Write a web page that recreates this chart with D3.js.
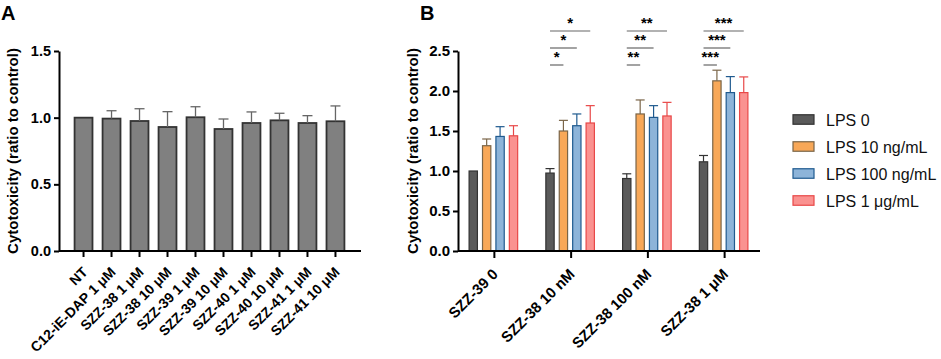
<!DOCTYPE html>
<html>
<head>
<meta charset="utf-8">
<script src="https://cdn.jsdelivr.net/npm/d3@7"></script>
<style>
body { margin: 0; background: #fff; }
svg { font-family: "Liberation Sans", Arial, sans-serif; }
</style>
</head>
<body>
<svg id="chart" width="941" height="359"></svg>
<script>
// Panel A data ==============================================================
var aCats = ["NT", "C12-iE-DAP 1 μM", "SZZ-38 1 μM", "SZZ-38 10 μM", "SZZ-39 1 μM",
	"SZZ-39 10 μM", "SZZ-40 1 μM", "SZZ-40 10 μM", "SZZ-41 1 μM", "SZZ-41 10 μM"];
var aMean = [1.0, 0.993, 0.975, 0.93, 1.003, 0.915, 0.96, 0.98, 0.96, 0.973];
var aTop  = [1.0, 1.052, 1.067, 1.045, 1.082, 0.99, 1.043, 1.033, 1.015, 1.088];
var aTicks = [0, 0.5, 1.0, 1.5];

// Panel B data ==============================================================
var bCats = ["SZZ-39 0", "SZZ-38 10 nM", "SZZ-38 100 nM", "SZZ-38 1 μM"];
var bSeries = ["LPS 0", "LPS 10 ng/mL", "LPS 100 ng/mL", "LPS 1 μg/mL"];
var bMean = [
	[1.0, 0.974, 0.906, 1.115],
	[1.316, 1.5, 1.713, 2.127],
	[1.432, 1.566, 1.67, 1.98],
	[1.44, 1.6, 1.688, 1.98]
];
var bTop = [
	[1.0, 1.03, 0.965, 1.194],
	[1.40, 1.633, 1.888, 2.26],
	[1.554, 1.713, 1.817, 2.18],
	[1.566, 1.817, 1.858, 2.176]
];
var bTicks = [0, 0.5, 1.0, 1.5, 2.0, 2.5];
// significance: [group, series compared with LPS 0, label]
var bSig = [
	[1, 1, "*"], [1, 2, "*"], [1, 3, "*"],
	[2, 1, "**"], [2, 2, "**"], [2, 3, "**"],
	[3, 1, "***"], [3, 2, "***"], [3, 3, "***"]
];

var fills   = ["#5a5a5a", "#f8a858", "#8db4d9", "#fa9290"];
var strokes = ["#333333", "#7a6548", "#1f5a8f", "#e84848"];

var svg = d3.select("#chart");
var yTop = 51, yBottom = 251;

// Panel A ===================================================================
var ax = 59;
var aY = d3.scaleLinear().domain([0, 1.5]).range([yBottom, yTop]);
var aX = d3.scaleBand().domain(aCats).range([64.5, 354.5]).padding(0.36);

var gA = svg.append("g");

gA.selectAll("rect.bar")
	.data(aCats)
	.enter().append("rect")
	.attr("x", function(d) { return aX(d); })
	.attr("y", function(d, i) { return aY(aMean[i]); })
	.attr("width", aX.bandwidth())
	.attr("height", function(d, i) { return aY(0) - aY(aMean[i]); })
	.attr("fill", "#808080")
	.attr("stroke", "#333")
	.attr("stroke-width", 1.8);

var aErr = gA.selectAll("g.err")
	.data(aCats)
	.enter().append("g")
	.attr("stroke", "#666")
	.attr("stroke-width", 1.3);
aErr.filter(function(d, i) { return aTop[i] > aMean[i]; })
	.each(function(d) {
		var i = aCats.indexOf(d);
		var cx = aX(d) + aX.bandwidth() / 2;
		var g = d3.select(this);
		g.append("line").attr("x1", cx).attr("x2", cx)
			.attr("y1", aY(aMean[i])).attr("y2", aY(aTop[i]));
		g.append("line").attr("x1", cx - 5).attr("x2", cx + 5)
			.attr("y1", aY(aTop[i])).attr("y2", aY(aTop[i]));
	});

gA.append("g")
	.attr("class", "y-axis")
	.attr("transform", "translate(" + ax + ",0)")
	.call(d3.axisLeft(aY).tickValues(aTicks).tickFormat(d3.format(".1f")).tickSize(5).tickSizeOuter(0))
	.call(styleAxis)
	.call(function(g) { g.selectAll(".tick text").attr("font-size", 14.5); });

gA.append("g")
	.attr("class", "x-axis")
	.attr("transform", "translate(0," + yBottom + ")")
	.call(d3.axisBottom(aX).tickSize(6).tickSizeOuter(0))
	.call(styleAxis)
	.call(function(g) {
		g.select(".domain").attr("d", "M" + ax + ",0H361");
		g.selectAll(".tick text")
			.attr("text-anchor", "end")
			.attr("dy", 0)
			.attr("transform", "translate(-1.4,15.6) rotate(-45)")
			.attr("font-size", 14);
	});

gA.append("text")
	.attr("transform", "translate(18,151) rotate(-90)")
	.attr("text-anchor", "middle")
	.attr("font-size", 15)
	.attr("font-weight", "bold")
	.text("Cytotoxicity (ratio to control)");

svg.append("text").attr("x", 1).attr("y", 20)
	.attr("font-size", 20).attr("font-weight", "bold").text("A");

// Panel B ===================================================================
var bx = 458;
var bY = d3.scaleLinear().domain([0, 2.5]).range([yBottom, yTop]);
var bX = d3.scaleBand().domain(bCats).range([456, 763]);
var bSub = d3.scaleBand().domain(d3.range(4)).range([8, bX.bandwidth() - 10]).padding(0.38);

var gB = svg.append("g");

bSeries.forEach(function(s, si) {
	gB.selectAll("rect.s" + si)
		.data(bCats)
		.enter().append("rect")
		.attr("x", function(d) { return bX(d) + bSub(si); })
		.attr("y", function(d, gi) { return bY(bMean[si][gi]); })
		.attr("width", bSub.bandwidth())
		.attr("height", function(d, gi) { return bY(0) - bY(bMean[si][gi]); })
		.attr("fill", fills[si])
		.attr("stroke", strokes[si])
		.attr("stroke-width", 1.2);

	bCats.forEach(function(d, gi) {
		if (bTop[si][gi] <= bMean[si][gi]) return;
		var cx = bX(d) + bSub(si) + bSub.bandwidth() / 2;
		var g = gB.append("g").attr("stroke", strokes[si]).attr("stroke-width", 1.2);
		g.append("line").attr("x1", cx).attr("x2", cx)
			.attr("y1", bY(bMean[si][gi])).attr("y2", bY(bTop[si][gi]));
		g.append("line").attr("x1", cx - 4.5).attr("x2", cx + 4.5)
			.attr("y1", bY(bTop[si][gi])).attr("y2", bY(bTop[si][gi]));
	});
});

// significance brackets
var sigY = [null, 65, 48, 31];
bSig.forEach(function(s) {
	var cat = bCats[s[0]];
	var x1 = bX(cat) + bSub(0) + bSub.bandwidth() / 2;
	var x2 = bX(cat) + bSub(s[1]) + bSub.bandwidth() / 2;
	var y = sigY[s[1]];
	gB.append("line").attr("x1", x1).attr("x2", x2).attr("y1", y).attr("y2", y)
		.attr("stroke", "#666").attr("stroke-width", 1.2);
	gB.append("text").attr("x", (x1 + x2) / 2).attr("y", y - 3)
		.attr("text-anchor", "middle").attr("font-size", 15).attr("font-weight", "bold")
		.text(s[2]);
});

gB.append("g")
	.attr("class", "y-axis")
	.attr("transform", "translate(" + bx + ",0)")
	.call(d3.axisLeft(bY).tickValues(bTicks).tickFormat(d3.format(".1f")).tickSize(5).tickSizeOuter(0))
	.call(styleAxis)
	.call(function(g) { g.selectAll(".tick text").attr("font-size", 15); });

gB.append("g")
	.attr("class", "x-axis")
	.attr("transform", "translate(0," + yBottom + ")")
	.call(d3.axisBottom(bX).tickSize(7).tickSizeOuter(0))
	.call(styleAxis)
	.call(function(g) {
		g.select(".domain").attr("d", "M" + bx + ",0H760");
		g.selectAll(".tick text")
			.attr("text-anchor", "end")
			.attr("dy", 0)
			.attr("transform", "translate(-2.5,17) rotate(-45)")
			.attr("font-size", 15);
	});

gB.append("text")
	.attr("transform", "translate(418,151) rotate(-90)")
	.attr("text-anchor", "middle")
	.attr("font-size", 15)
	.attr("font-weight", "bold")
	.text("Cytotoxicity (ratio to control)");

svg.append("text").attr("x", 420).attr("y", 20)
	.attr("font-size", 20).attr("font-weight", "bold").text("B");

// Legend ====================================================================
var legend = svg.append("g").attr("transform", "translate(793,119.5)");
bSeries.forEach(function(s, i) {
	var row = legend.append("g").attr("transform", "translate(0," + (i * 27) + ")");
	row.append("rect").attr("x", 0).attr("y", -4.75).attr("width", 21).attr("height", 9.5)
		.attr("fill", fills[i]).attr("stroke", strokes[i]).attr("stroke-width", 1.2);
	row.append("text").attr("x", 33).attr("y", 6)
		.attr("font-size", 16).attr("fill", "#111").text(s);
});

function styleAxis(g) {
	g.select(".domain").attr("stroke", "#000").attr("stroke-width", 2);
	g.selectAll(".tick line").attr("stroke", "#000").attr("stroke-width", 2);
	g.selectAll(".tick text")
		.attr("font-family", "'Liberation Sans', Arial, sans-serif")
		.attr("font-size", 14)
		.attr("font-weight", "bold")
		.attr("fill", "#000");
}
</script>
</body>
</html>
